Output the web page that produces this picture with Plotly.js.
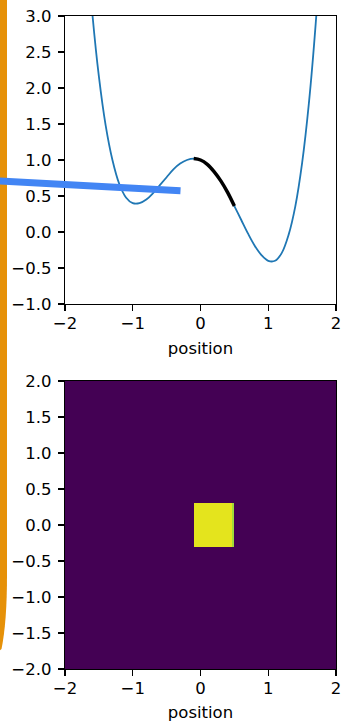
<!DOCTYPE html>
<html>
<head>
<meta charset="utf-8">
<script src="https://cdn.plot.ly/plotly-3.0.1.min.js"></script>
<style>html,body{margin:0;padding:0;background:#fff;}#chart{width:343px;height:722px;}</style>
</head>
<body>
<div id="chart"></div>
<script>
// Potential curve
const posX = [-1.7,-1.6,-1.5,-1.4,-1.3,-1.2,-1.1,-1.0,-0.9,-0.8,-0.7,-0.6,-0.5,-0.4,-0.3,-0.2,-0.1,0.0,0.1,0.2,0.3,0.4,0.5,0.6,0.7,0.8,0.9,1.0,1.1,1.2,1.3,1.4,1.5,1.6,1.7,1.8];
const potY = [4.25,3.07,2.16,1.48,1.00,0.67,0.48,0.40,0.40,0.45,0.54,0.65,0.76,0.87,0.95,1.00,1.02,1.00,0.94,0.84,0.71,0.55,0.36,0.17,-0.02,-0.19,-0.32,-0.40,-0.40,-0.29,-0.04,0.36,0.96,1.79,2.89,4.30];
// Highlighted segment (black)
const segX = [-0.1,0.0,0.1,0.2,0.3,0.4,0.5];
const segY = [1.02,1.00,0.94,0.84,0.71,0.55,0.36];
// Pointer line (blue), tail and head in data units
const pointerX = [-3.5, -0.295];
const pointerY = [0.736, 0.572];
// Heatmap bins (edges) and values
const binX = [-2, -0.1, 0.47, 0.5, 2];
const binY = [-2, -0.3, 0.3, 2];
const zVals = [
  [0, 0, 0, 0],
  [0, 0.96, 0.86, 0],
  [0, 0, 0, 0]
];
const tickVals = [-2,-1,0,1,2];
const yTicksTop = [-1.0,-0.5,0.0,0.5,1.0,1.5,2.0,2.5,3.0];
const yTicksBot = [-2.0,-1.5,-1.0,-0.5,0.0,0.5,1.0,1.5,2.0];

const font = {family: 'DejaVu Sans', size: 16.5, color: '#000'};
const axBase = {
  showgrid: false, zeroline: false, showline: true, mirror: true,
  linecolor: '#000', linewidth: 1.3, ticks: 'outside', ticklen: 6, tickwidth: 1.3,
  tickcolor: '#000', tickfont: font
};

const traces = [
  {x: posX, y: potY, mode: 'lines', line: {color: '#1f77b4', width: 1.8, shape: 'spline'}, xaxis: 'x', yaxis: 'y', hoverinfo: 'skip'},
  {x: segX, y: segY, mode: 'lines', line: {color: '#000', width: 3.5, shape: 'spline'}, xaxis: 'x', yaxis: 'y', hoverinfo: 'skip'},
  {type: 'heatmap', x: binX, y: binY, z: zVals, zmin: 0, zmax: 1, colorscale: 'Viridis', showscale: false, xaxis: 'x2', yaxis: 'y2', hoverinfo: 'skip'}
];

const L = 65, R = 7, T = 16, B = 53, W = 343, H = 722;
const pw = W - L - R, ph = H - T - B;
const px = v => (v - L) / pw;
const py = v => (H - B - v) / ph;
const orangePath = 'M ' + px(-6) + ',' + py(-6) + ' L ' + px(7) + ',' + py(-6) +
  ' L ' + px(7) + ',' + py(575) + ' Q ' + px(7) + ',' + py(622) + ' ' + px(1.5) + ',' + py(649) +
  ' L ' + px(-6) + ',' + py(655) + ' Z';

const xAx = {domain: [0,1], range: [-2,2], tickvals: tickVals, ticklabelstandoff: -2,
  title: {text: 'position', font: font, standoff: 10}};

const layout = {
  width: W, height: H,
  margin: {l: L, r: R, t: T, b: B},
  paper_bgcolor: '#fff', plot_bgcolor: '#fff',
  showlegend: false,
  font: font,
  xaxis: Object.assign({}, axBase, xAx, {anchor: 'y'}),
  yaxis: Object.assign({}, axBase, {domain: [1 - 288/ph, 1], range: [-1,3], tickvals: yTicksTop, tickformat: '.1f', anchor: 'x', ticklabelstandoff: 3}),
  xaxis2: Object.assign({}, axBase, xAx, {anchor: 'y2'}),
  yaxis2: Object.assign({}, axBase, {domain: [0, 288/ph], range: [-2,2], tickvals: yTicksBot, tickformat: '.1f', anchor: 'x2', ticklabelstandoff: 3}),
  shapes: [
    {type: 'path', xref: 'paper', yref: 'paper', path: orangePath, fillcolor: '#e69108', line: {width: 0}, layer: 'above'}
  ],
  annotations: [
    {xref: 'x', yref: 'y', axref: 'x', ayref: 'y', x: pointerX[1], y: pointerY[1], ax: pointerX[0], ay: pointerY[0],
     text: '', showarrow: true, arrowhead: 0, arrowwidth: 7, arrowcolor: '#4285f4', standoff: 0, startstandoff: 0}
  ]
};

Plotly.newPlot('chart', traces, layout, {staticPlot: true});
</script>
</body>
</html>
